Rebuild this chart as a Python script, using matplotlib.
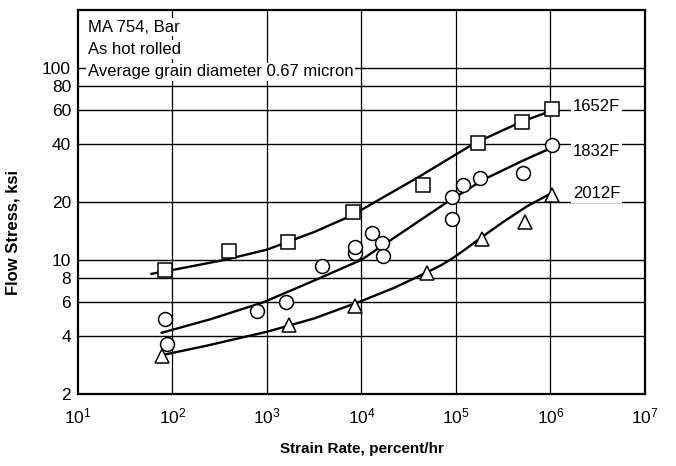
import matplotlib
matplotlib.use("Agg")
import matplotlib.pyplot as plt
from matplotlib.ticker import FixedLocator, FixedFormatter, NullLocator

plt.rcParams['font.family'] = ['Liberation Sans Narrow', 'Liberation Sans', 'DejaVu Sans']
plt.rcParams['mathtext.fontset'] = 'custom'
plt.rcParams['mathtext.rm'] = 'Liberation Sans'
plt.rcParams['mathtext.it'] = 'Liberation Sans'

# measured points (strain rate %/hr, flow stress ksi)
sq_x = [84, 400, 1680, 8100, 44700, 170000, 495000, 1.05e6]
sq_y = [8.8, 11.1, 12.4, 17.8, 24.5, 40.4, 52.4, 60.8]

ci_x = [84, 87, 780, 1580, 3850, 8500, 8500, 13000, 16400, 17000,
        91400, 91400, 119000, 180000, 515000, 1.05e6]
ci_y = [4.9, 3.65, 5.4, 6.0, 9.3, 10.8, 11.7, 13.8, 12.2, 10.5,
        21.2, 16.4, 24.5, 26.6, 28.2, 39.6]

tri_x = [77, 1710, 8530, 49300, 190000, 537000, 1.05e6]
tri_y = [3.16, 4.58, 5.74, 8.53, 12.9, 15.8, 21.7]

# faired curves through the data
c1652_x = [60, 100, 360, 1000, 3160, 8070, 13900, 39800, 155000, 495000, 1.05e6]
c1652_y = [8.45, 8.85, 10.0, 11.3, 13.96, 17.1, 20.0, 26.9, 40.3, 52.4, 60.0]

c1832_x = [77, 251, 908, 3090, 1e4, 28200, 80400, 2e5, 5.01e5, 1.05e6]
c1832_y = [4.17, 4.90, 6.0, 7.76, 10.0, 14.1, 19.95, 26.3, 32.7, 38.5]

c2012_x = [80, 230, 1000, 3160, 1e4, 22400, 49000, 70000, 93500, 130000,
           190000, 316000, 562000, 1.05e6]
c2012_y = [3.2, 3.57, 4.22, 4.95, 6.1, 7.16, 8.59, 9.38, 10.23, 11.48,
           13.18, 15.74, 18.97, 22.4]

temps = ['1652F', '1832F', '2012F']
temp_label_y = [62.7, 36.6, 22.2]

y_ticks = [2, 4, 6, 8, 10, 20, 40, 60, 80, 100]
x_ticks = [1e1, 1e2, 1e3, 1e4, 1e5, 1e6, 1e7]
x_ticklabels = ['$10^{%d}$' % n for n in range(1, 8)]

fig = plt.figure(figsize=(6.76, 4.66), dpi=100)
ax = fig.add_axes([0.1154, 0.1545, 0.8386, 0.824])
ax.set_xscale('log')
ax.set_yscale('log')
ax.set_xlim(1e1, 1e7)
ax.set_ylim(2, 200)

# grid
for yv in y_ticks[1:]:
    ax.axhline(yv, color='black', lw=1.0, zorder=1)
for xv in x_ticks[1:-1]:
    ax.axvline(xv, color='black', lw=0.9, zorder=1)

for cx, cy in [(c1652_x, c1652_y), (c1832_x, c1832_y), (c2012_x, c2012_y)]:
    ax.plot(cx, cy, color='black', lw=1.7, zorder=3, solid_joinstyle='round')

mk = dict(linestyle='none', mfc='white', mec='black', mew=1.1, zorder=4)
ax.plot(sq_x, sq_y, marker='s', ms=9.5, **mk)
ax.plot(ci_x, ci_y, marker='o', ms=10, **mk)
ax.plot(tri_x, tri_y, marker='^', ms=10, **mk)

for t, yv in zip(temps, temp_label_y):
    ax.text(1.72e6, yv, t, fontsize=12, va='center', ha='left', zorder=5,
            bbox=dict(facecolor='white', edgecolor='none', pad=1.5))

header = ['MA 754, Bar', 'As hot rolled', 'Average grain diameter 0.67 micron']
for i, line in enumerate(header):
    ax.text(0.0175, 0.955 - i * 0.058, line, transform=ax.transAxes,
            fontsize=12, va='center', ha='left', zorder=5,
            bbox=dict(facecolor='white', edgecolor='none', pad=1.2))

ax.yaxis.set_major_locator(FixedLocator(y_ticks))
ax.yaxis.set_major_formatter(FixedFormatter([str(v) for v in y_ticks]))
ax.yaxis.set_minor_locator(NullLocator())
ax.xaxis.set_major_locator(FixedLocator(x_ticks))
ax.xaxis.set_major_formatter(FixedFormatter(x_ticklabels))
ax.xaxis.set_minor_locator(NullLocator())
ax.tick_params(axis='both', length=0, labelsize=12.5)
ax.tick_params(axis='x', pad=9)
ax.tick_params(axis='y', pad=5)

for s in ax.spines.values():
    s.set_linewidth(1.6)
    s.set_zorder(6)

ax.set_xlabel('Strain Rate, percent/hr', fontsize=11, fontweight='bold', labelpad=11)
ax.set_ylabel('Flow Stress, ksi', fontsize=12, fontweight='bold')
ax.yaxis.set_label_coords(-0.102, 0.42)

fig.savefig('out.png', dpi=100)
